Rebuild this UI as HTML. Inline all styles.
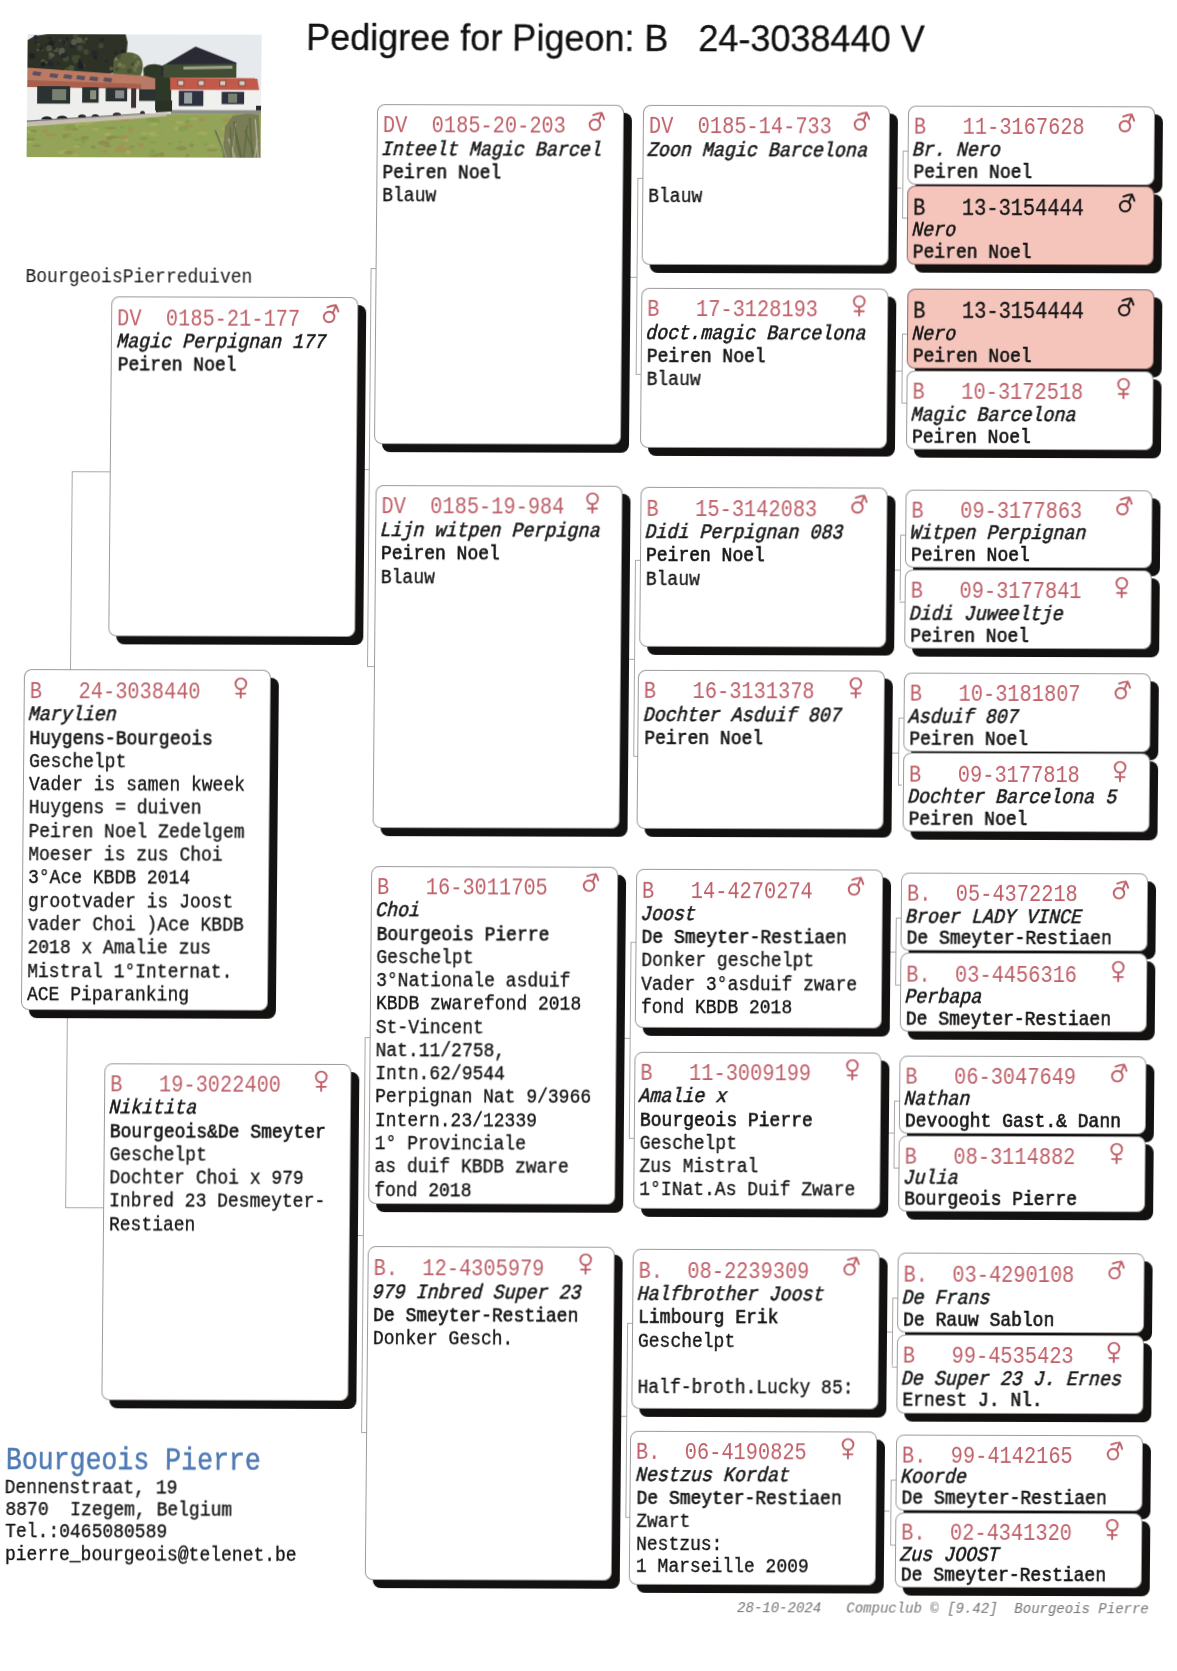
<!DOCTYPE html>
<html><head><meta charset="utf-8"><title>Pedigree</title>
<style>
html,body{margin:0;padding:0;background:#ffffff;width:1177px;height:1671px;overflow:hidden}
#pg{position:absolute;left:0;top:0;width:1177px;height:1671px;transform-origin:0 0;transform:matrix(1,0.0029,-0.009,1,0,0);filter:blur(0.5px)}
.bx{position:absolute;box-sizing:border-box;width:247px;border:1px solid #9b9b9b;border-radius:8px;background:#fff;box-shadow:8px 8px 0 #141111}
.pk{background:#f5c5bc;border-color:#8a6a6a}
.ln{position:absolute;left:0;white-space:pre;font-family:"Liberation Mono",monospace;transform-origin:0 0;color:#151515}
.rg{font-size:23.5px;line-height:24px;transform:scaleX(0.865);color:#bf5f68}
.pk .rg{color:#151515}
.nm{font-size:20.5px;line-height:24px;transform:scaleX(0.895) skewX(-4deg);font-style:italic;-webkit-text-stroke:0.55px #151515}
.br{font-size:20.5px;line-height:24px;transform:scaleX(0.878);-webkit-text-stroke:0.65px #151515}
.tx{font-size:20.5px;line-height:24px;transform:scaleX(0.878);-webkit-text-stroke:0.35px #151515}
.rg{-webkit-text-stroke:0px #bf5f68}
.pk .rg{-webkit-text-stroke:0.3px #151515}
.sx{position:absolute;overflow:visible}
.cn{position:absolute;background:#a8a8a8}
</style></head><body><div id="pg">

<div class="cn" style="left:890.3px;top:1508.0px;width:13.2px;height:1px"></div>
<div class="cn" style="left:903.5px;top:1541.9px;width:5.4px;height:1px"></div>
<div class="cn" style="left:903.5px;top:1476.9px;width:5.0px;height:1px"></div>
<div class="cn" style="left:903.5px;top:1476.9px;width:1px;height:65.0px"></div>
<div class="cn" style="left:890.7px;top:1329.0px;width:13.0px;height:1px"></div>
<div class="cn" style="left:903.7px;top:1363.5px;width:4.9px;height:1px"></div>
<div class="cn" style="left:903.7px;top:1294.9px;width:5.0px;height:1px"></div>
<div class="cn" style="left:903.7px;top:1294.9px;width:1px;height:68.6px"></div>
<div class="cn" style="left:891.2px;top:1130.3px;width:13.0px;height:1px"></div>
<div class="cn" style="left:904.2px;top:1164.8px;width:4.8px;height:1px"></div>
<div class="cn" style="left:904.2px;top:1097.9px;width:5.0px;height:1px"></div>
<div class="cn" style="left:904.2px;top:1097.9px;width:1px;height:66.9px"></div>
<div class="cn" style="left:891.2px;top:948.7px;width:13.0px;height:1px"></div>
<div class="cn" style="left:904.2px;top:981.7px;width:4.9px;height:1px"></div>
<div class="cn" style="left:904.2px;top:914.9px;width:5.0px;height:1px"></div>
<div class="cn" style="left:904.2px;top:914.9px;width:1px;height:66.8px"></div>
<div class="cn" style="left:891.3px;top:749.6px;width:13.6px;height:1px"></div>
<div class="cn" style="left:904.9px;top:782.3px;width:4.6px;height:1px"></div>
<div class="cn" style="left:904.9px;top:714.9px;width:5.0px;height:1px"></div>
<div class="cn" style="left:904.9px;top:714.9px;width:1px;height:67.4px"></div>
<div class="cn" style="left:891.7px;top:567.3px;width:13.0px;height:1px"></div>
<div class="cn" style="left:904.7px;top:598.5px;width:5.1px;height:1px"></div>
<div class="cn" style="left:904.7px;top:531.6px;width:5.0px;height:1px"></div>
<div class="cn" style="left:904.7px;top:531.6px;width:1px;height:66.9px"></div>
<div class="cn" style="left:891.0px;top:367.8px;width:13.5px;height:1px"></div>
<div class="cn" style="left:904.5px;top:399.7px;width:5.1px;height:1px"></div>
<div class="cn" style="left:904.5px;top:331.3px;width:5.0px;height:1px"></div>
<div class="cn" style="left:904.5px;top:331.3px;width:1px;height:68.4px"></div>
<div class="cn" style="left:890.6px;top:184.6px;width:12.9px;height:1px"></div>
<div class="cn" style="left:903.5px;top:215.3px;width:5.4px;height:1px"></div>
<div class="cn" style="left:903.5px;top:147.8px;width:5.0px;height:1px"></div>
<div class="cn" style="left:903.5px;top:147.8px;width:1px;height:67.5px"></div>
<div class="cn" style="left:626.0px;top:1413.9px;width:12.7px;height:1px"></div>
<div class="cn" style="left:638.7px;top:1515.3px;width:4.5px;height:1px"></div>
<div class="cn" style="left:638.7px;top:1320.6px;width:5.0px;height:1px"></div>
<div class="cn" style="left:638.7px;top:1320.6px;width:1px;height:194.7px"></div>
<div class="cn" style="left:626.2px;top:1036.0px;width:13.0px;height:1px"></div>
<div class="cn" style="left:639.2px;top:1136.1px;width:4.9px;height:1px"></div>
<div class="cn" style="left:639.2px;top:940.4px;width:5.0px;height:1px"></div>
<div class="cn" style="left:639.2px;top:940.4px;width:1px;height:195.7px"></div>
<div class="cn" style="left:626.8px;top:657.2px;width:12.9px;height:1px"></div>
<div class="cn" style="left:639.7px;top:754.0px;width:4.6px;height:1px"></div>
<div class="cn" style="left:639.7px;top:558.4px;width:5.0px;height:1px"></div>
<div class="cn" style="left:639.7px;top:558.4px;width:1px;height:195.6px"></div>
<div class="cn" style="left:625.2px;top:275.1px;width:13.4px;height:1px"></div>
<div class="cn" style="left:638.6px;top:371.6px;width:5.3px;height:1px"></div>
<div class="cn" style="left:638.6px;top:175.7px;width:5.0px;height:1px"></div>
<div class="cn" style="left:638.6px;top:175.7px;width:1px;height:195.9px"></div>
<div class="cn" style="left:360.9px;top:1233.6px;width:13.3px;height:1px"></div>
<div class="cn" style="left:374.2px;top:1430.8px;width:4.8px;height:1px"></div>
<div class="cn" style="left:374.2px;top:1036.4px;width:5.0px;height:1px"></div>
<div class="cn" style="left:374.2px;top:1036.4px;width:1px;height:394.4px"></div>
<div class="cn" style="left:361.3px;top:467.7px;width:12.0px;height:1px"></div>
<div class="cn" style="left:373.2px;top:665.4px;width:6.5px;height:1px"></div>
<div class="cn" style="left:373.2px;top:267.2px;width:5.0px;height:1px"></div>
<div class="cn" style="left:373.2px;top:267.2px;width:1px;height:398.2px"></div>
<div class="cn" style="left:76.2px;top:1206.7px;width:37.6px;height:1px"></div>
<div class="cn" style="left:76.2px;top:1009.7px;width:1px;height:197.0px"></div>
<div class="cn" style="left:76.2px;top:470.7px;width:38.0px;height:1px"></div>
<div class="cn" style="left:76.2px;top:470.7px;width:1px;height:198.6px"></div>
<div class="bx" style="left:29.5px;top:669.3px;height:340.4px">
<div class="ln rg" style="top:9.6px;left:5.1px">B   24-3038440</div>
<svg class="sx" style="left:204.5px;top:4.5px" width="24" height="26" viewBox="-12 -8 24 26"><g fill="none" stroke="#bf5f68" stroke-width="1.9" stroke-linecap="round"><circle cx="0" cy="0" r="5.4"/><path d="M0 5.4 L0 14 M-4.6 9.8 L4.6 9.8"/></g></svg>
<div class="ln nm" style="top:33.0px;left:5.3px">Marylien</div>
<div class="ln br" style="top:56.3px;left:5.3px">Huygens-Bourgeois</div>
<div class="ln tx" style="top:79.6px;left:5.3px">Geschelpt</div>
<div class="ln tx" style="top:102.9px;left:5.3px">Vader is samen kweek</div>
<div class="ln tx" style="top:126.2px;left:5.3px">Huygens = duiven</div>
<div class="ln tx" style="top:149.5px;left:5.3px">Peiren Noel Zedelgem</div>
<div class="ln tx" style="top:172.9px;left:5.3px">Moeser is zus Choi</div>
<div class="ln tx" style="top:196.2px;left:5.3px">3°Ace KBDB 2014</div>
<div class="ln tx" style="top:219.5px;left:5.3px">grootvader is Joost</div>
<div class="ln tx" style="top:242.8px;left:5.3px">vader Choi )Ace KBDB</div>
<div class="ln tx" style="top:266.1px;left:5.3px">2018 x Amalie zus</div>
<div class="ln tx" style="top:289.4px;left:5.3px">Mistral 1°Internat.</div>
<div class="ln tx" style="top:312.7px;left:5.3px">ACE Piparanking</div>
</div>
<div class="bx" style="left:114.3px;top:296.0px;height:339.5px">
<div class="ln rg" style="top:9.5px;left:5.1px">DV  0185-21-177</div>
<svg class="sx" style="left:204.5px;top:2.9px" width="24" height="24" viewBox="-12 -16 24 24"><g fill="none" stroke="#bf5f68" stroke-width="1.9" stroke-linecap="round" stroke-linejoin="round"><circle cx="0" cy="0" r="5.3"/><path d="M3.6 -3.8 L6.8 -11.5 M-1.8 -9.6 Q3 -11.6 6.8 -11.7 Q8.3 -8.5 9.2 -5.4"/></g></svg>
<div class="ln nm" style="top:32.9px;left:5.3px">Magic Perpignan 177</div>
<div class="ln br" style="top:56.2px;left:5.3px">Peiren Noel</div>
</div>
<div class="bx" style="left:113.9px;top:1062.7px;height:337.8px">
<div class="ln rg" style="top:9.5px;left:5.1px">B   19-3022400</div>
<svg class="sx" style="left:204.5px;top:4.4px" width="24" height="26" viewBox="-12 -8 24 26"><g fill="none" stroke="#bf5f68" stroke-width="1.9" stroke-linecap="round"><circle cx="0" cy="0" r="5.4"/><path d="M0 5.4 L0 14 M-4.6 9.8 L4.6 9.8"/></g></svg>
<div class="ln nm" style="top:32.8px;left:5.3px">Nikitita</div>
<div class="ln br" style="top:56.0px;left:5.3px">Bourgeois&amp;De Smeyter</div>
<div class="ln tx" style="top:79.2px;left:5.3px">Geschelpt</div>
<div class="ln tx" style="top:102.5px;left:5.3px">Dochter Choi x 979</div>
<div class="ln tx" style="top:125.7px;left:5.3px">Inbred 23 Desmeyter-</div>
<div class="ln tx" style="top:148.9px;left:5.3px">Restiaen</div>
</div>
<div class="bx" style="left:378.2px;top:102.7px;height:340.8px">
<div class="ln rg" style="top:9.6px;left:5.1px">DV  0185-20-203</div>
<svg class="sx" style="left:204.5px;top:2.9px" width="24" height="24" viewBox="-12 -16 24 24"><g fill="none" stroke="#bf5f68" stroke-width="1.9" stroke-linecap="round" stroke-linejoin="round"><circle cx="0" cy="0" r="5.3"/><path d="M3.6 -3.8 L6.8 -11.5 M-1.8 -9.6 Q3 -11.6 6.8 -11.7 Q8.3 -8.5 9.2 -5.4"/></g></svg>
<div class="ln nm" style="top:33.0px;left:5.3px">Inteelt Magic Barcel</div>
<div class="ln br" style="top:56.3px;left:5.3px">Peiren Noel</div>
<div class="ln tx" style="top:79.7px;left:5.3px">Blauw</div>
</div>
<div class="bx" style="left:379.8px;top:483.7px;height:343.0px">
<div class="ln rg" style="top:9.7px;left:5.1px">DV  0185-19-984</div>
<svg class="sx" style="left:204.5px;top:4.6px" width="24" height="26" viewBox="-12 -8 24 26"><g fill="none" stroke="#bf5f68" stroke-width="1.9" stroke-linecap="round"><circle cx="0" cy="0" r="5.4"/><path d="M0 5.4 L0 14 M-4.6 9.8 L4.6 9.8"/></g></svg>
<div class="ln nm" style="top:33.2px;left:5.3px">Lijn witpen Perpigna</div>
<div class="ln br" style="top:56.6px;left:5.3px">Peiren Noel</div>
<div class="ln tx" style="top:80.0px;left:5.3px">Blauw</div>
</div>
<div class="bx" style="left:379.2px;top:864.6px;height:338.8px">
<div class="ln rg" style="top:9.5px;left:5.1px">B   16-3011705</div>
<svg class="sx" style="left:204.5px;top:2.9px" width="24" height="24" viewBox="-12 -16 24 24"><g fill="none" stroke="#bf5f68" stroke-width="1.9" stroke-linecap="round" stroke-linejoin="round"><circle cx="0" cy="0" r="5.3"/><path d="M3.6 -3.8 L6.8 -11.5 M-1.8 -9.6 Q3 -11.6 6.8 -11.7 Q8.3 -8.5 9.2 -5.4"/></g></svg>
<div class="ln nm" style="top:32.9px;left:5.3px">Choi</div>
<div class="ln br" style="top:56.1px;left:5.3px">Bourgeois Pierre</div>
<div class="ln tx" style="top:79.4px;left:5.3px">Geschelpt</div>
<div class="ln tx" style="top:102.6px;left:5.3px">3°Nationale asduif</div>
<div class="ln tx" style="top:125.9px;left:5.3px">KBDB zwarefond 2018</div>
<div class="ln tx" style="top:149.1px;left:5.3px">St-Vincent</div>
<div class="ln tx" style="top:172.4px;left:5.3px">Nat.11/2758,</div>
<div class="ln tx" style="top:195.7px;left:5.3px">Intn.62/9544</div>
<div class="ln tx" style="top:218.9px;left:5.3px">Perpignan Nat 9/3966</div>
<div class="ln tx" style="top:242.2px;left:5.3px">Intern.23/12339</div>
<div class="ln tx" style="top:265.4px;left:5.3px">1° Provinciale</div>
<div class="ln tx" style="top:288.7px;left:5.3px">as duif KBDB zware</div>
<div class="ln tx" style="top:312.0px;left:5.3px">fond 2018</div>
</div>
<div class="bx" style="left:379.0px;top:1244.8px;height:334.1px">
<div class="ln rg" style="top:10.6px;left:5.1px">B.  12-4305979</div>
<svg class="sx" style="left:204.5px;top:4.3px" width="24" height="26" viewBox="-12 -8 24 26"><g fill="none" stroke="#bf5f68" stroke-width="1.9" stroke-linecap="round"><circle cx="0" cy="0" r="5.4"/><path d="M0 5.4 L0 14 M-4.6 9.8 L4.6 9.8"/></g></svg>
<div class="ln nm" style="top:33.8px;left:5.3px">979 Inbred Super 23</div>
<div class="ln br" style="top:56.9px;left:5.3px">De Smeyter-Restiaen</div>
<div class="ln tx" style="top:80.0px;left:5.3px">Donker Gesch.</div>
</div>
<div class="bx" style="left:643.6px;top:102.5px;height:160.2px">
<div class="ln rg" style="top:9.6px;left:5.1px">DV  0185-14-733</div>
<svg class="sx" style="left:204.5px;top:2.9px" width="24" height="24" viewBox="-12 -16 24 24"><g fill="none" stroke="#bf5f68" stroke-width="1.9" stroke-linecap="round" stroke-linejoin="round"><circle cx="0" cy="0" r="5.3"/><path d="M3.6 -3.8 L6.8 -11.5 M-1.8 -9.6 Q3 -11.6 6.8 -11.7 Q8.3 -8.5 9.2 -5.4"/></g></svg>
<div class="ln nm" style="top:33.0px;left:5.3px">Zoon Magic Barcelona</div>
<div class="ln tx" style="top:79.6px;left:5.3px">Blauw</div>
</div>
<div class="bx" style="left:644.0px;top:285.5px;height:160.6px">
<div class="ln rg" style="top:9.6px;left:5.1px">B   17-3128193</div>
<svg class="sx" style="left:204.5px;top:4.6px" width="24" height="26" viewBox="-12 -8 24 26"><g fill="none" stroke="#bf5f68" stroke-width="1.9" stroke-linecap="round"><circle cx="0" cy="0" r="5.4"/><path d="M0 5.4 L0 14 M-4.6 9.8 L4.6 9.8"/></g></svg>
<div class="ln nm" style="top:33.0px;left:5.3px">doct.magic Barcelona</div>
<div class="ln br" style="top:56.4px;left:5.3px">Peiren Noel</div>
<div class="ln tx" style="top:79.7px;left:5.3px">Blauw</div>
</div>
<div class="bx" style="left:644.7px;top:485.2px;height:160.2px">
<div class="ln rg" style="top:9.6px;left:5.1px">B   15-3142083</div>
<svg class="sx" style="left:204.5px;top:2.9px" width="24" height="24" viewBox="-12 -16 24 24"><g fill="none" stroke="#bf5f68" stroke-width="1.9" stroke-linecap="round" stroke-linejoin="round"><circle cx="0" cy="0" r="5.3"/><path d="M3.6 -3.8 L6.8 -11.5 M-1.8 -9.6 Q3 -11.6 6.8 -11.7 Q8.3 -8.5 9.2 -5.4"/></g></svg>
<div class="ln nm" style="top:33.0px;left:5.3px">Didi Perpignan 083</div>
<div class="ln br" style="top:56.3px;left:5.3px">Peiren Noel</div>
<div class="ln tx" style="top:79.6px;left:5.3px">Blauw</div>
</div>
<div class="bx" style="left:644.3px;top:667.9px;height:159.4px">
<div class="ln rg" style="top:9.5px;left:5.1px">B   16-3131378</div>
<svg class="sx" style="left:204.5px;top:4.4px" width="24" height="26" viewBox="-12 -8 24 26"><g fill="none" stroke="#bf5f68" stroke-width="1.9" stroke-linecap="round"><circle cx="0" cy="0" r="5.4"/><path d="M0 5.4 L0 14 M-4.6 9.8 L4.6 9.8"/></g></svg>
<div class="ln nm" style="top:32.8px;left:5.3px">Dochter Asduif 807</div>
<div class="ln br" style="top:56.1px;left:5.3px">Peiren Noel</div>
</div>
<div class="bx" style="left:644.2px;top:867.2px;height:159.0px">
<div class="ln rg" style="top:9.5px;left:5.1px">B   14-4270274</div>
<svg class="sx" style="left:204.5px;top:2.8px" width="24" height="24" viewBox="-12 -16 24 24"><g fill="none" stroke="#bf5f68" stroke-width="1.9" stroke-linecap="round" stroke-linejoin="round"><circle cx="0" cy="0" r="5.3"/><path d="M3.6 -3.8 L6.8 -11.5 M-1.8 -9.6 Q3 -11.6 6.8 -11.7 Q8.3 -8.5 9.2 -5.4"/></g></svg>
<div class="ln nm" style="top:32.8px;left:5.3px">Joost</div>
<div class="ln br" style="top:56.0px;left:5.3px">De Smeyter-Restiaen</div>
<div class="ln tx" style="top:79.2px;left:5.3px">Donker geschelpt</div>
<div class="ln tx" style="top:102.5px;left:5.3px">Vader 3°asduif zware</div>
<div class="ln tx" style="top:125.7px;left:5.3px">fond KBDB 2018</div>
</div>
<div class="bx" style="left:644.2px;top:1050.0px;height:156.6px">
<div class="ln rg" style="top:9.2px;left:5.1px">B   11-3009199</div>
<svg class="sx" style="left:204.5px;top:4.2px" width="24" height="26" viewBox="-12 -8 24 26"><g fill="none" stroke="#bf5f68" stroke-width="1.9" stroke-linecap="round"><circle cx="0" cy="0" r="5.4"/><path d="M0 5.4 L0 14 M-4.6 9.8 L4.6 9.8"/></g></svg>
<div class="ln nm" style="top:32.4px;left:5.3px">Amalie x</div>
<div class="ln br" style="top:55.5px;left:5.3px">Bourgeois Pierre</div>
<div class="ln tx" style="top:78.5px;left:5.3px">Geschelpt</div>
<div class="ln tx" style="top:101.6px;left:5.3px">Zus Mistral</div>
<div class="ln tx" style="top:124.6px;left:5.3px">1°INat.As Duif Zware</div>
</div>
<div class="bx" style="left:643.7px;top:1247.4px;height:159.2px">
<div class="ln rg" style="top:9.5px;left:5.1px">B.  08-2239309</div>
<svg class="sx" style="left:204.5px;top:2.8px" width="24" height="24" viewBox="-12 -16 24 24"><g fill="none" stroke="#bf5f68" stroke-width="1.9" stroke-linecap="round" stroke-linejoin="round"><circle cx="0" cy="0" r="5.3"/><path d="M3.6 -3.8 L6.8 -11.5 M-1.8 -9.6 Q3 -11.6 6.8 -11.7 Q8.3 -8.5 9.2 -5.4"/></g></svg>
<div class="ln nm" style="top:32.8px;left:5.3px">Halfbrother Joost</div>
<div class="ln br" style="top:56.1px;left:5.3px">Limbourg Erik</div>
<div class="ln tx" style="top:79.3px;left:5.3px">Geschelpt</div>
<div class="ln tx" style="top:125.8px;left:5.3px">Half-broth.Lucky 85:</div>
</div>
<div class="bx" style="left:643.3px;top:1429.2px;height:153.5px">
<div class="ln rg" style="top:9.0px;left:5.1px">B.  06-4190825</div>
<svg class="sx" style="left:204.5px;top:3.9px" width="24" height="26" viewBox="-12 -8 24 26"><g fill="none" stroke="#bf5f68" stroke-width="1.9" stroke-linecap="round"><circle cx="0" cy="0" r="5.4"/><path d="M0 5.4 L0 14 M-4.6 9.8 L4.6 9.8"/></g></svg>
<div class="ln nm" style="top:31.9px;left:5.3px">Nestzus Kordat</div>
<div class="ln br" style="top:54.7px;left:5.3px">De Smeyter-Restiaen</div>
<div class="ln tx" style="top:77.5px;left:5.3px">Zwart</div>
<div class="ln tx" style="top:100.4px;left:5.3px">Nestzus:</div>
<div class="ln tx" style="top:123.2px;left:5.3px">1 Marseille 2009</div>
</div>
<div class="bx" style="left:908.5px;top:102.7px;height:79.2px">
<div class="ln rg" style="top:9.7px;left:5.1px">B   11-3167628</div>
<svg class="sx" style="left:204.5px;top:3.1px" width="24" height="24" viewBox="-12 -16 24 24"><g fill="none" stroke="#bf5f68" stroke-width="1.9" stroke-linecap="round" stroke-linejoin="round"><circle cx="0" cy="0" r="5.3"/><path d="M3.6 -3.8 L6.8 -11.5 M-1.8 -9.6 Q3 -11.6 6.8 -11.7 Q8.3 -8.5 9.2 -5.4"/></g></svg>
<div class="ln nm" style="top:32.3px;left:5.3px">Br. Nero</div>
<div class="ln br" style="top:53.9px;left:5.3px">Peiren Noel</div>
</div>
<div class="bx pk" style="left:909.0px;top:183.4px;height:78.6px">
<div class="ln rg" style="top:9.5px;left:5.1px">B   13-3154444</div>
<svg class="sx" style="left:204.5px;top:2.9px" width="24" height="24" viewBox="-12 -16 24 24"><g fill="none" stroke="#151515" stroke-width="1.9" stroke-linecap="round" stroke-linejoin="round"><circle cx="0" cy="0" r="5.3"/><path d="M3.6 -3.8 L6.8 -11.5 M-1.8 -9.6 Q3 -11.6 6.8 -11.7 Q8.3 -8.5 9.2 -5.4"/></g></svg>
<div class="ln nm" style="top:31.9px;left:5.3px">Nero</div>
<div class="ln br" style="top:53.3px;left:5.3px">Peiren Noel</div>
</div>
<div class="bx pk" style="left:909.5px;top:286.2px;height:80.1px">
<div class="ln rg" style="top:10.1px;left:5.1px">B   13-3154444</div>
<svg class="sx" style="left:204.5px;top:3.4px" width="24" height="24" viewBox="-12 -16 24 24"><g fill="none" stroke="#151515" stroke-width="1.9" stroke-linecap="round" stroke-linejoin="round"><circle cx="0" cy="0" r="5.3"/><path d="M3.6 -3.8 L6.8 -11.5 M-1.8 -9.6 Q3 -11.6 6.8 -11.7 Q8.3 -8.5 9.2 -5.4"/></g></svg>
<div class="ln nm" style="top:32.8px;left:5.3px">Nero</div>
<div class="ln br" style="top:54.7px;left:5.3px">Peiren Noel</div>
</div>
<div class="bx" style="left:909.6px;top:367.8px;height:79.2px">
<div class="ln rg" style="top:9.7px;left:5.1px">B   10-3172518</div>
<svg class="sx" style="left:204.5px;top:4.7px" width="24" height="26" viewBox="-12 -8 24 26"><g fill="none" stroke="#bf5f68" stroke-width="1.9" stroke-linecap="round"><circle cx="0" cy="0" r="5.4"/><path d="M0 5.4 L0 14 M-4.6 9.8 L4.6 9.8"/></g></svg>
<div class="ln nm" style="top:32.3px;left:5.3px">Magic Barcelona</div>
<div class="ln br" style="top:53.9px;left:5.3px">Peiren Noel</div>
</div>
<div class="bx" style="left:909.7px;top:486.5px;height:78.6px">
<div class="ln rg" style="top:9.5px;left:5.1px">B   09-3177863</div>
<svg class="sx" style="left:204.5px;top:2.9px" width="24" height="24" viewBox="-12 -16 24 24"><g fill="none" stroke="#bf5f68" stroke-width="1.9" stroke-linecap="round" stroke-linejoin="round"><circle cx="0" cy="0" r="5.3"/><path d="M3.6 -3.8 L6.8 -11.5 M-1.8 -9.6 Q3 -11.6 6.8 -11.7 Q8.3 -8.5 9.2 -5.4"/></g></svg>
<div class="ln nm" style="top:31.9px;left:5.3px">Witpen Perpignan</div>
<div class="ln br" style="top:53.3px;left:5.3px">Peiren Noel</div>
</div>
<div class="bx" style="left:909.8px;top:566.6px;height:79.5px">
<div class="ln rg" style="top:9.8px;left:5.1px">B   09-3177841</div>
<svg class="sx" style="left:204.5px;top:4.8px" width="24" height="26" viewBox="-12 -8 24 26"><g fill="none" stroke="#bf5f68" stroke-width="1.9" stroke-linecap="round"><circle cx="0" cy="0" r="5.4"/><path d="M0 5.4 L0 14 M-4.6 9.8 L4.6 9.8"/></g></svg>
<div class="ln nm" style="top:32.4px;left:5.3px">Didi Juweeltje</div>
<div class="ln br" style="top:54.1px;left:5.3px">Peiren Noel</div>
</div>
<div class="bx" style="left:909.9px;top:669.8px;height:79.1px">
<div class="ln rg" style="top:9.7px;left:5.1px">B   10-3181807</div>
<svg class="sx" style="left:204.5px;top:3.1px" width="24" height="24" viewBox="-12 -16 24 24"><g fill="none" stroke="#bf5f68" stroke-width="1.9" stroke-linecap="round" stroke-linejoin="round"><circle cx="0" cy="0" r="5.3"/><path d="M3.6 -3.8 L6.8 -11.5 M-1.8 -9.6 Q3 -11.6 6.8 -11.7 Q8.3 -8.5 9.2 -5.4"/></g></svg>
<div class="ln nm" style="top:32.2px;left:5.3px">Asduif 807</div>
<div class="ln br" style="top:53.8px;left:5.3px">Peiren Noel</div>
</div>
<div class="bx" style="left:909.6px;top:750.4px;height:78.6px">
<div class="ln rg" style="top:9.5px;left:5.1px">B   09-3177818</div>
<svg class="sx" style="left:204.5px;top:4.5px" width="24" height="26" viewBox="-12 -8 24 26"><g fill="none" stroke="#bf5f68" stroke-width="1.9" stroke-linecap="round"><circle cx="0" cy="0" r="5.4"/><path d="M0 5.4 L0 14 M-4.6 9.8 L4.6 9.8"/></g></svg>
<div class="ln nm" style="top:31.9px;left:5.3px">Dochter Barcelona 5</div>
<div class="ln br" style="top:53.3px;left:5.3px">Peiren Noel</div>
</div>
<div class="bx" style="left:909.2px;top:869.8px;height:78.5px">
<div class="ln rg" style="top:9.5px;left:5.1px">B.  05-4372218</div>
<svg class="sx" style="left:204.5px;top:2.8px" width="24" height="24" viewBox="-12 -16 24 24"><g fill="none" stroke="#bf5f68" stroke-width="1.9" stroke-linecap="round" stroke-linejoin="round"><circle cx="0" cy="0" r="5.3"/><path d="M3.6 -3.8 L6.8 -11.5 M-1.8 -9.6 Q3 -11.6 6.8 -11.7 Q8.3 -8.5 9.2 -5.4"/></g></svg>
<div class="ln nm" style="top:31.8px;left:5.3px">Broer LADY VINCE</div>
<div class="ln br" style="top:53.2px;left:5.3px">De Smeyter-Restiaen</div>
</div>
<div class="bx" style="left:909.1px;top:949.8px;height:79.5px">
<div class="ln rg" style="top:9.8px;left:5.1px">B.  03-4456316</div>
<svg class="sx" style="left:204.5px;top:4.8px" width="24" height="26" viewBox="-12 -8 24 26"><g fill="none" stroke="#bf5f68" stroke-width="1.9" stroke-linecap="round"><circle cx="0" cy="0" r="5.4"/><path d="M0 5.4 L0 14 M-4.6 9.8 L4.6 9.8"/></g></svg>
<div class="ln nm" style="top:32.4px;left:5.3px">Perbapa</div>
<div class="ln br" style="top:54.1px;left:5.3px">De Smeyter-Restiaen</div>
</div>
<div class="bx" style="left:909.2px;top:1052.8px;height:78.4px">
<div class="ln rg" style="top:9.5px;left:5.1px">B   06-3047649</div>
<svg class="sx" style="left:204.5px;top:2.8px" width="24" height="24" viewBox="-12 -16 24 24"><g fill="none" stroke="#bf5f68" stroke-width="1.9" stroke-linecap="round" stroke-linejoin="round"><circle cx="0" cy="0" r="5.3"/><path d="M3.6 -3.8 L6.8 -11.5 M-1.8 -9.6 Q3 -11.6 6.8 -11.7 Q8.3 -8.5 9.2 -5.4"/></g></svg>
<div class="ln nm" style="top:31.7px;left:5.3px">Nathan</div>
<div class="ln br" style="top:53.1px;left:5.3px">Devooght Gast.&amp; Dann</div>
</div>
<div class="bx" style="left:909.0px;top:1132.9px;height:76.6px">
<div class="ln rg" style="top:8.8px;left:5.1px">B   08-3114882</div>
<svg class="sx" style="left:204.5px;top:3.8px" width="24" height="26" viewBox="-12 -8 24 26"><g fill="none" stroke="#bf5f68" stroke-width="1.9" stroke-linecap="round"><circle cx="0" cy="0" r="5.4"/><path d="M0 5.4 L0 14 M-4.6 9.8 L4.6 9.8"/></g></svg>
<div class="ln nm" style="top:30.6px;left:5.3px">Julia</div>
<div class="ln br" style="top:51.5px;left:5.3px">Bourgeois Pierre</div>
</div>
<div class="bx" style="left:908.7px;top:1249.8px;height:80.3px">
<div class="ln rg" style="top:10.1px;left:5.1px">B.  03-4290108</div>
<svg class="sx" style="left:204.5px;top:3.5px" width="24" height="24" viewBox="-12 -16 24 24"><g fill="none" stroke="#bf5f68" stroke-width="1.9" stroke-linecap="round" stroke-linejoin="round"><circle cx="0" cy="0" r="5.3"/><path d="M3.6 -3.8 L6.8 -11.5 M-1.8 -9.6 Q3 -11.6 6.8 -11.7 Q8.3 -8.5 9.2 -5.4"/></g></svg>
<div class="ln nm" style="top:33.0px;left:5.3px">De Frans</div>
<div class="ln br" style="top:54.9px;left:5.3px">De Rauw Sablon</div>
</div>
<div class="bx" style="left:908.7px;top:1331.6px;height:79.0px">
<div class="ln rg" style="top:9.7px;left:5.1px">B   99-4535423</div>
<svg class="sx" style="left:204.5px;top:4.6px" width="24" height="26" viewBox="-12 -8 24 26"><g fill="none" stroke="#bf5f68" stroke-width="1.9" stroke-linecap="round"><circle cx="0" cy="0" r="5.4"/><path d="M0 5.4 L0 14 M-4.6 9.8 L4.6 9.8"/></g></svg>
<div class="ln nm" style="top:32.1px;left:5.3px">De Super 23 J. Ernes</div>
<div class="ln br" style="top:53.7px;left:5.3px">Ernest J. Nl.</div>
</div>
<div class="bx" style="left:908.5px;top:1431.8px;height:76.7px">
<div class="ln rg" style="top:8.8px;left:5.1px">B.  99-4142165</div>
<svg class="sx" style="left:204.5px;top:2.2px" width="24" height="24" viewBox="-12 -16 24 24"><g fill="none" stroke="#bf5f68" stroke-width="1.9" stroke-linecap="round" stroke-linejoin="round"><circle cx="0" cy="0" r="5.3"/><path d="M3.6 -3.8 L6.8 -11.5 M-1.8 -9.6 Q3 -11.6 6.8 -11.7 Q8.3 -8.5 9.2 -5.4"/></g></svg>
<div class="ln nm" style="top:30.7px;left:5.3px">Koorde</div>
<div class="ln br" style="top:51.6px;left:5.3px">De Smeyter-Restiaen</div>
</div>
<div class="bx" style="left:908.9px;top:1510.0px;height:75.3px">
<div class="ln rg" style="top:8.3px;left:5.1px">B.  02-4341320</div>
<svg class="sx" style="left:204.5px;top:3.3px" width="24" height="26" viewBox="-12 -8 24 26"><g fill="none" stroke="#bf5f68" stroke-width="1.9" stroke-linecap="round"><circle cx="0" cy="0" r="5.4"/><path d="M0 5.4 L0 14 M-4.6 9.8 L4.6 9.8"/></g></svg>
<div class="ln nm" style="top:29.8px;left:5.3px">Zus JOOST</div>
<div class="ln br" style="top:50.3px;left:5.3px">De Smeyter-Restiaen</div>
</div>
<div style="position:absolute;left:306.5px;top:16.6px;font-family:'Liberation Sans',sans-serif;font-size:36px;line-height:40px;white-space:pre;color:#111;-webkit-text-stroke:0.3px #111">Pedigree for Pigeon: B   24-3038440 V</div>
<svg style="position:absolute;left:28.3px;top:33.8px" width="234" height="123" viewBox="0 0 234 123"><defs><filter id="bl" x="0" y="0" width="1" height="1"><feGaussianBlur stdDeviation="0.7"/></filter><clipPath id="pc"><rect width="234" height="123"/></clipPath></defs>
<g filter="url(#bl)" clip-path="url(#pc)">
<rect width="234" height="123" fill="#e7eaec"/>
<path d="M0 6 L7 2 L20 0 L98 0 L100 8 L99 20 L96 30 L90 38 L75 40 L0 36 Z" fill="#2d3026"/>
<circle cx="32.4" cy="6.3" r="1.3" fill="#3f4a33"/>
<circle cx="52.4" cy="13.8" r="3.0" fill="#3f4a33"/>
<circle cx="22.2" cy="4.0" r="1.3" fill="#1f2224"/>
<circle cx="10.5" cy="15.9" r="1.4" fill="#555a48"/>
<circle cx="23.0" cy="23.0" r="2.4" fill="#3f4a33"/>
<circle cx="39.3" cy="35.2" r="2.3" fill="#3f4a33"/>
<circle cx="14.5" cy="15.7" r="1.4" fill="#555a48"/>
<circle cx="31.0" cy="29.6" r="1.4" fill="#262630"/>
<circle cx="55.7" cy="7.6" r="2.3" fill="#3f4a33"/>
<circle cx="7.9" cy="3.1" r="2.2" fill="#262630"/>
<circle cx="52.0" cy="28.2" r="2.4" fill="#1f2224"/>
<circle cx="44.6" cy="11.5" r="2.6" fill="#262630"/>
<circle cx="24.9" cy="21.1" r="2.2" fill="#555a48"/>
<circle cx="34.3" cy="16.7" r="3.2" fill="#555a48"/>
<circle cx="13.1" cy="15.6" r="1.5" fill="#4a5238"/>
<circle cx="48.0" cy="2.4" r="2.7" fill="#3f4a33"/>
<circle cx="55.9" cy="31.6" r="1.9" fill="#4a5238"/>
<circle cx="34.9" cy="18.4" r="1.3" fill="#1f2224"/>
<circle cx="10.8" cy="10.4" r="1.3" fill="#3f4a33"/>
<circle cx="67.9" cy="23.6" r="1.8" fill="#1f2224"/>
<circle cx="38.3" cy="24.4" r="3.1" fill="#3f4a33"/>
<circle cx="35.4" cy="22.4" r="1.3" fill="#1f2224"/>
<circle cx="74.2" cy="5.5" r="2.0" fill="#262630"/>
<circle cx="88.2" cy="18.4" r="2.1" fill="#262630"/>
<circle cx="53.6" cy="31.9" r="2.9" fill="#1f2224"/>
<circle cx="28.2" cy="15.5" r="2.6" fill="#4a5238"/>
<circle cx="37.8" cy="9.1" r="1.6" fill="#3f4a33"/>
<circle cx="23.8" cy="9.2" r="2.9" fill="#1f2224"/>
<circle cx="19.1" cy="10.9" r="2.0" fill="#262630"/>
<circle cx="36.7" cy="20.8" r="2.6" fill="#262630"/>
<circle cx="50.5" cy="22.6" r="2.1" fill="#3f4a33"/>
<circle cx="83.9" cy="34.3" r="2.0" fill="#555a48"/>
<circle cx="39.5" cy="4.6" r="1.3" fill="#1f2224"/>
<circle cx="8.3" cy="8.3" r="1.4" fill="#262630"/>
<circle cx="58.5" cy="4.6" r="1.5" fill="#555a48"/>
<circle cx="11.5" cy="13.7" r="1.3" fill="#3f4a33"/>
<circle cx="21.5" cy="14.2" r="3.1" fill="#4a5238"/>
<circle cx="58.6" cy="17.6" r="2.9" fill="#3f4a33"/>
<circle cx="95.4" cy="17.3" r="1.8" fill="#1f2224"/>
<circle cx="15.5" cy="27.2" r="2.2" fill="#4a5238"/>
<circle cx="67.1" cy="19.1" r="3.1" fill="#262630"/>
<circle cx="51.7" cy="6.1" r="3.0" fill="#555a48"/>
<circle cx="73.3" cy="11.4" r="2.6" fill="#3f4a33"/>
<circle cx="26.5" cy="13.8" r="1.9" fill="#262630"/>
<circle cx="22.9" cy="20.0" r="1.9" fill="#555a48"/>
<circle cx="23.0" cy="29.4" r="2.8" fill="#262630"/>
<circle cx="78.9" cy="26.9" r="1.6" fill="#262630"/>
<circle cx="48.3" cy="26.6" r="2.8" fill="#3f4a33"/>
<circle cx="46.4" cy="7.8" r="3.1" fill="#555a48"/>
<circle cx="44.0" cy="33.8" r="3.1" fill="#4a5238"/>
<circle cx="36.3" cy="8.7" r="2.1" fill="#262630"/>
<circle cx="33.7" cy="17.9" r="2.9" fill="#555a48"/>
<circle cx="47.1" cy="23.9" r="2.9" fill="#3f4a33"/>
<circle cx="13.3" cy="14.6" r="2.2" fill="#262630"/>
<circle cx="18.8" cy="28.6" r="1.4" fill="#4a5238"/>
<circle cx="90.9" cy="26.3" r="2.0" fill="#1f2224"/>
<circle cx="91.0" cy="26.4" r="3.2" fill="#262630"/>
<circle cx="4.6" cy="21.7" r="2.8" fill="#1f2224"/>
<circle cx="15.7" cy="29.9" r="2.5" fill="#1f2224"/>
<circle cx="34.9" cy="20.2" r="1.2" fill="#262630"/>
<path d="M86 26 C90 18 104 15 112 22 C117 28 116 38 112 43 L86 43 Z" fill="#56603a"/>
<circle cx="108.0" cy="36.0" r="1.2" fill="#7a7a55"/>
<circle cx="111.3" cy="29.5" r="2.3" fill="#6a7045"/>
<circle cx="88.7" cy="24.7" r="1.8" fill="#7a7a55"/>
<circle cx="96.1" cy="32.0" r="2.3" fill="#6a7045"/>
<circle cx="110.8" cy="27.8" r="1.7" fill="#7a7a55"/>
<circle cx="108.4" cy="31.4" r="2.2" fill="#7a7a55"/>
<circle cx="91.3" cy="23.3" r="1.8" fill="#444c30"/>
<circle cx="107.4" cy="33.4" r="2.2" fill="#6a7045"/>
<circle cx="92.3" cy="30.4" r="2.1" fill="#7a7a55"/>
<circle cx="89.5" cy="35.0" r="1.8" fill="#444c30"/>
<circle cx="107.6" cy="22.3" r="1.8" fill="#6a7045"/>
<circle cx="92.8" cy="20.9" r="1.1" fill="#444c30"/>
<circle cx="102.0" cy="36.7" r="2.4" fill="#444c30"/>
<circle cx="96.1" cy="41.4" r="1.9" fill="#6a7045"/>
<circle cx="105.3" cy="30.0" r="1.8" fill="#444c30"/>
<path d="M116 34 C120 28 134 28 142 36 L146 76 L118 76 Z" fill="#2e3828"/>
<path d="M134 32 L168 12 L209 28 L209 42 L134 42 Z" fill="#2a2a36"/>
<path d="M136 30 L209 29 L209 43 L136 43 Z" fill="#3f4d32"/>
<path d="M156 32 L205 31 L205 34 L156 35 Z" fill="#9ea08e"/>
<path d="M0 33.5 L118 41.5 L128 44 L128 55 L0 53 Z" fill="#bd7a62"/>
<path d="M0 46 L128 50 L128 55 L0 53 Z" fill="#a8604e"/>
<path d="M6 37 l8 1 l-1 4 l-8 -1 Z" fill="#5b5060"/>
<path d="M23 39 l8 1 l-1 4 l-8 -1 Z" fill="#5b5060"/>
<path d="M37 40 l8 1 l-1 4 l-8 -1 Z" fill="#5b5060"/>
<path d="M50 41 l8 1 l-1 4 l-8 -1 Z" fill="#5b5060"/>
<path d="M63 42 l8 1 l-1 4 l-8 -1 Z" fill="#5b5060"/>
<path d="M77 43 l8 1 l-1 4 l-8 -1 Z" fill="#5b5060"/>
<path d="M0 53 L128 55 L128 79 L0 86 Z" fill="#eeeeec"/>
<rect x="10" y="52" width="33" height="17.5" fill="#2c3030"/><rect x="25" y="55" width="14" height="11" fill="#77806e"/>
<rect x="55" y="53" width="16.5" height="15.5" fill="#2c3030"/><rect x="63" y="56" width="6" height="9" fill="#8a8f80"/>
<rect x="78.5" y="53.5" width="21.5" height="13.5" fill="#2c3030"/><rect x="88" y="56" width="9" height="8" fill="#8a8a88"/>
<rect x="104" y="54" width="5" height="19.5" fill="#3b3036"/>
<rect x="112" y="54.5" width="16" height="12" fill="#2c3030"/>
<path d="M14.3 85.5 a5.6 3.2 0 0 1 11.2 0 Z" fill="#232326"/>
<path d="M29.6 84.8 a5.6 3.2 0 0 1 11.2 0 Z" fill="#232326"/>
<path d="M51.0 83.5 a4.1 3.2 0 0 1 8.2 0 Z" fill="#232326"/>
<path d="M64.3 82.8 a4.1 3.2 0 0 1 8.1 0 Z" fill="#232326"/>
<path d="M85.7 81.5 a4.3 3.2 0 0 1 8.6 0 Z" fill="#232326"/>
<path d="M113.0 79.8 a2.5 3.2 0 0 1 5.0 0 Z" fill="#232326"/>
<path d="M143 43 L230 43.5 L232 55.5 L143 55.5 Z" fill="#c35a48"/>
<rect x="150.7" y="46" width="6" height="5" fill="#d6ccc4" stroke="#6a4038" stroke-width="0.8"/>
<rect x="171.0" y="46" width="6" height="5" fill="#d6ccc4" stroke="#6a4038" stroke-width="0.8"/>
<rect x="192.5" y="46" width="6" height="5" fill="#d6ccc4" stroke="#6a4038" stroke-width="0.8"/>
<rect x="211.9" y="46" width="6" height="5" fill="#d6ccc4" stroke="#6a4038" stroke-width="0.8"/>
<path d="M114 44 L128 45 L128 55 L114 55 Z" fill="#b87a68"/>
<rect x="144" y="55.5" width="90" height="21" fill="#f0f0ee"/>
<rect x="151.7" y="56.2" width="24.5" height="15.3" fill="#2e3040"/><rect x="157" y="58" width="8" height="11" fill="#9aa0a0"/>
<rect x="194.5" y="57.2" width="22.5" height="12.3" fill="#2e3040"/><rect x="201" y="59" width="9" height="9" fill="#7a8070"/>
<rect x="229" y="71" width="5" height="8" fill="#2a2a2a"/>
<rect x="144" y="75.5" width="90" height="4" fill="#8c8e8a"/>
<path d="M129 66 L145 66 L145 77 L129 78 Z" fill="#2a3226"/>
<path d="M0 88 L118 79.5 L234 79 L234 123 L0 123 Z" fill="#93a458"/>
<ellipse cx="101.6" cy="93.4" rx="5.5" ry="2.4" fill="#86a850" opacity="0.8"/>
<ellipse cx="51.9" cy="105.3" rx="5.4" ry="1.2" fill="#7f9e48" opacity="0.8"/>
<ellipse cx="24.3" cy="100.8" rx="4.7" ry="1.6" fill="#a49050" opacity="0.8"/>
<ellipse cx="42.5" cy="95.5" rx="5.6" ry="1.2" fill="#a49050" opacity="0.8"/>
<ellipse cx="143.2" cy="109.1" rx="3.0" ry="1.2" fill="#7f9e48" opacity="0.8"/>
<ellipse cx="93.5" cy="112.4" rx="3.6" ry="1.7" fill="#a49050" opacity="0.8"/>
<ellipse cx="198.0" cy="115.6" rx="4.8" ry="2.5" fill="#7f9e48" opacity="0.8"/>
<ellipse cx="80.8" cy="100.0" rx="3.3" ry="2.1" fill="#a8ac5e" opacity="0.8"/>
<ellipse cx="3.9" cy="105.1" rx="4.8" ry="1.6" fill="#8c8a4c" opacity="0.8"/>
<ellipse cx="103.5" cy="95.2" rx="2.5" ry="2.4" fill="#a49050" opacity="0.8"/>
<ellipse cx="45.7" cy="117.3" rx="3.1" ry="1.1" fill="#a49050" opacity="0.8"/>
<ellipse cx="155.8" cy="94.3" rx="5.3" ry="2.3" fill="#7f9e48" opacity="0.8"/>
<ellipse cx="135.2" cy="119.9" rx="2.6" ry="2.4" fill="#8c8a4c" opacity="0.8"/>
<ellipse cx="114.1" cy="110.6" rx="3.1" ry="2.2" fill="#a49050" opacity="0.8"/>
<ellipse cx="36.7" cy="118.0" rx="5.8" ry="2.0" fill="#a8ac5e" opacity="0.8"/>
<ellipse cx="160.3" cy="87.2" rx="2.3" ry="2.3" fill="#7f9e48" opacity="0.8"/>
<ellipse cx="90.8" cy="96.9" rx="3.7" ry="2.4" fill="#86a850" opacity="0.8"/>
<ellipse cx="124.3" cy="85.6" rx="5.8" ry="2.5" fill="#7f9e48" opacity="0.8"/>
<ellipse cx="52.4" cy="90.9" rx="4.5" ry="1.8" fill="#a8ac5e" opacity="0.8"/>
<ellipse cx="41.2" cy="100.9" rx="3.1" ry="2.2" fill="#7f9e48" opacity="0.8"/>
<ellipse cx="198.9" cy="85.4" rx="4.9" ry="1.8" fill="#a49050" opacity="0.8"/>
<ellipse cx="37.9" cy="102.0" rx="2.4" ry="2.2" fill="#8c8a4c" opacity="0.8"/>
<ellipse cx="86.4" cy="102.8" rx="5.9" ry="1.5" fill="#8c8a4c" opacity="0.8"/>
<ellipse cx="43.0" cy="92.7" rx="5.3" ry="2.1" fill="#7f9e48" opacity="0.8"/>
<ellipse cx="127.2" cy="99.4" rx="5.9" ry="2.3" fill="#a8ac5e" opacity="0.8"/>
<ellipse cx="2.9" cy="107.8" rx="3.7" ry="1.1" fill="#a8ac5e" opacity="0.8"/>
<ellipse cx="133.0" cy="98.5" rx="4.7" ry="1.4" fill="#86a850" opacity="0.8"/>
<ellipse cx="48.4" cy="95.1" rx="2.7" ry="1.4" fill="#8c8a4c" opacity="0.8"/>
<ellipse cx="0.7" cy="97.8" rx="5.9" ry="1.8" fill="#a8ac5e" opacity="0.8"/>
<ellipse cx="48.9" cy="120.7" rx="2.9" ry="1.3" fill="#a8ac5e" opacity="0.8"/>
<ellipse cx="67.1" cy="87.2" rx="4.0" ry="1.3" fill="#a8ac5e" opacity="0.8"/>
<ellipse cx="100.9" cy="84.2" rx="5.3" ry="1.2" fill="#a8ac5e" opacity="0.8"/>
<ellipse cx="117.4" cy="99.0" rx="3.2" ry="1.3" fill="#a8ac5e" opacity="0.8"/>
<ellipse cx="117.1" cy="104.1" rx="4.6" ry="2.1" fill="#7f9e48" opacity="0.8"/>
<ellipse cx="175.8" cy="98.8" rx="4.9" ry="1.7" fill="#a8ac5e" opacity="0.8"/>
<ellipse cx="56.8" cy="107.5" rx="2.2" ry="2.3" fill="#7f9e48" opacity="0.8"/>
<ellipse cx="178.4" cy="107.8" rx="2.6" ry="1.8" fill="#86a850" opacity="0.8"/>
<ellipse cx="100.9" cy="115.7" rx="5.3" ry="1.9" fill="#a49050" opacity="0.8"/>
<ellipse cx="178.6" cy="110.0" rx="2.3" ry="1.1" fill="#7f9e48" opacity="0.8"/>
<ellipse cx="127.4" cy="120.5" rx="5.3" ry="1.8" fill="#8c8a4c" opacity="0.8"/>
<ellipse cx="125.6" cy="107.8" rx="4.0" ry="1.0" fill="#7f9e48" opacity="0.8"/>
<ellipse cx="159.5" cy="112.4" rx="5.6" ry="1.1" fill="#86a850" opacity="0.8"/>
<ellipse cx="105.2" cy="112.3" rx="3.0" ry="1.1" fill="#8c8a4c" opacity="0.8"/>
<ellipse cx="53.1" cy="111.7" rx="2.9" ry="2.0" fill="#7f9e48" opacity="0.8"/>
<ellipse cx="92.1" cy="116.1" rx="3.9" ry="2.0" fill="#a49050" opacity="0.8"/>
<ellipse cx="153.4" cy="107.4" rx="2.3" ry="1.2" fill="#7f9e48" opacity="0.8"/>
<ellipse cx="50.8" cy="112.2" rx="4.5" ry="1.2" fill="#a8ac5e" opacity="0.8"/>
<ellipse cx="96.5" cy="102.5" rx="4.8" ry="2.0" fill="#a49050" opacity="0.8"/>
<ellipse cx="58.2" cy="103.6" rx="3.9" ry="2.2" fill="#8c8a4c" opacity="0.8"/>
<ellipse cx="198.7" cy="104.9" rx="5.9" ry="2.4" fill="#a8ac5e" opacity="0.8"/>
<ellipse cx="3.5" cy="101.4" rx="5.9" ry="1.7" fill="#86a850" opacity="0.8"/>
<ellipse cx="53.7" cy="92.0" rx="2.3" ry="1.1" fill="#7f9e48" opacity="0.8"/>
<ellipse cx="149.5" cy="93.9" rx="2.5" ry="2.2" fill="#a8ac5e" opacity="0.8"/>
<ellipse cx="101.7" cy="117.7" rx="2.9" ry="2.3" fill="#a8ac5e" opacity="0.8"/>
<ellipse cx="97.2" cy="84.9" rx="5.8" ry="2.0" fill="#a49050" opacity="0.8"/>
<ellipse cx="81.1" cy="111.6" rx="3.4" ry="1.5" fill="#8c8a4c" opacity="0.8"/>
<ellipse cx="168.0" cy="84.1" rx="5.4" ry="1.2" fill="#a8ac5e" opacity="0.8"/>
<ellipse cx="185.3" cy="111.1" rx="3.0" ry="1.1" fill="#a8ac5e" opacity="0.8"/>
<ellipse cx="78.0" cy="117.1" rx="3.4" ry="1.6" fill="#a49050" opacity="0.8"/>
<ellipse cx="55.0" cy="85.8" rx="2.2" ry="2.0" fill="#a49050" opacity="0.8"/>
<ellipse cx="127.0" cy="89.7" rx="3.7" ry="1.5" fill="#a8ac5e" opacity="0.8"/>
<ellipse cx="154.6" cy="113.8" rx="5.5" ry="2.2" fill="#8c8a4c" opacity="0.8"/>
<ellipse cx="126.2" cy="118.7" rx="4.2" ry="2.1" fill="#86a850" opacity="0.8"/>
<ellipse cx="9.9" cy="111.8" rx="4.5" ry="1.2" fill="#8c8a4c" opacity="0.8"/>
<ellipse cx="173.9" cy="102.5" rx="2.5" ry="1.7" fill="#86a850" opacity="0.8"/>
<ellipse cx="68.7" cy="95.3" rx="3.6" ry="1.4" fill="#a8ac5e" opacity="0.8"/>
<ellipse cx="96.6" cy="109.4" rx="2.7" ry="1.2" fill="#a49050" opacity="0.8"/>
<ellipse cx="41.6" cy="118.4" rx="4.2" ry="1.7" fill="#8c8a4c" opacity="0.8"/>
<ellipse cx="66.6" cy="112.9" rx="2.6" ry="1.3" fill="#8c8a4c" opacity="0.8"/>
<ellipse cx="18.1" cy="97.0" rx="3.3" ry="1.6" fill="#a49050" opacity="0.8"/>
<ellipse cx="161.9" cy="91.7" rx="5.0" ry="1.6" fill="#a49050" opacity="0.8"/>
<ellipse cx="82.8" cy="103.9" rx="3.1" ry="2.1" fill="#8c8a4c" opacity="0.8"/>
<ellipse cx="99.6" cy="105.8" rx="2.5" ry="1.8" fill="#a8ac5e" opacity="0.8"/>
<ellipse cx="125.9" cy="116.8" rx="2.4" ry="2.3" fill="#7f9e48" opacity="0.8"/>
<ellipse cx="76.9" cy="108.5" rx="5.8" ry="2.3" fill="#8c8a4c" opacity="0.8"/>
<ellipse cx="174.6" cy="84.8" rx="3.7" ry="2.1" fill="#a49050" opacity="0.8"/>
<ellipse cx="160.8" cy="120.8" rx="2.0" ry="1.6" fill="#8c8a4c" opacity="0.8"/>
<ellipse cx="185.4" cy="115.4" rx="5.9" ry="1.4" fill="#8c8a4c" opacity="0.8"/>
<ellipse cx="21.8" cy="89.9" rx="5.9" ry="1.2" fill="#86a850" opacity="0.8"/>
<ellipse cx="165.1" cy="110.6" rx="2.3" ry="2.2" fill="#8c8a4c" opacity="0.8"/>
<ellipse cx="0.3" cy="88.8" rx="5.7" ry="2.0" fill="#86a850" opacity="0.8"/>
<ellipse cx="60.8" cy="88.9" rx="4.1" ry="1.7" fill="#a8ac5e" opacity="0.8"/>
<ellipse cx="152.8" cy="87.8" rx="4.1" ry="1.9" fill="#a8ac5e" opacity="0.8"/>
<ellipse cx="77.6" cy="92.5" rx="2.0" ry="1.8" fill="#86a850" opacity="0.8"/>
<ellipse cx="199.3" cy="94.6" rx="4.6" ry="2.3" fill="#a8ac5e" opacity="0.8"/>
<ellipse cx="95.1" cy="92.9" rx="2.1" ry="1.6" fill="#7f9e48" opacity="0.8"/>
<ellipse cx="129.9" cy="86.1" rx="4.0" ry="2.0" fill="#7f9e48" opacity="0.8"/>
<ellipse cx="84.0" cy="93.8" rx="5.7" ry="1.3" fill="#8c8a4c" opacity="0.8"/>
<ellipse cx="6.8" cy="96.8" rx="3.4" ry="1.6" fill="#8c8a4c" opacity="0.8"/>
<ellipse cx="1.4" cy="95.1" rx="2.3" ry="1.7" fill="#86a850" opacity="0.8"/>
<path d="M0 87.5 L118 79.4 L140 78.6 L140 81.4 L118 83.4 L0 92.6 Z" fill="#c6beb0"/>
<path d="M0 86.5 L118 78.8 L118 79.8 L0 87.8 Z" fill="#706a70"/>
<path d="M196 123 L198 92 L206 81 L220 79 L232 80 L234 123 Z" fill="#7a7c56"/>
<path d="M204.8 123 L208.1 86.5" stroke="#5c6a40" stroke-width="1.3"/>
<path d="M205.5 123 L208.7 88.8" stroke="#9a9a7a" stroke-width="1.3"/>
<path d="M214.9 123 L206.6 87.1" stroke="#5c6a40" stroke-width="1.3"/>
<path d="M229.0 123 L218.1 95.7" stroke="#5c6a40" stroke-width="1.3"/>
<path d="M199.8 123 L188.3 95.7" stroke="#5c6a40" stroke-width="1.3"/>
<path d="M199.8 123 L189.0 91.0" stroke="#9a9a7a" stroke-width="1.3"/>
<path d="M228.0 123 L230.7 104.9" stroke="#b4b29a" stroke-width="1.3"/>
<path d="M209.2 123 L200.9 103.5" stroke="#9a9a7a" stroke-width="1.3"/>
<path d="M213.9 123 L208.1 98.7" stroke="#5c6a40" stroke-width="1.3"/>
<path d="M231.5 123 L228.3 84.5" stroke="#b4b29a" stroke-width="1.3"/>
<path d="M207.5 123 L202.5 104.0" stroke="#b4b29a" stroke-width="1.3"/>
<path d="M217.1 123 L220.3 90.7" stroke="#5c6a40" stroke-width="1.3"/>
<path d="M225.9 123 L222.6 83.1" stroke="#5c6a40" stroke-width="1.3"/>
<path d="M204.7 123 L203.5 92.3" stroke="#5c6a40" stroke-width="1.3"/>
</g></svg>
<div class="ln" style="left:28.3px;top:261.5px;font-size:20.5px;line-height:30px;transform:scaleX(0.878);">BourgeoisPierreduiven</div>
<div class="ln" style="left:18.7px;top:1445.6px;font-size:31.5px;line-height:30px;transform:scaleX(0.843);color:#4d7ab3;-webkit-text-stroke:0.5px #4d7ab3">Bourgeois Pierre</div>
<div class="ln" style="left:18.4px;top:1472.8px;font-size:20.5px;line-height:30px;transform:scaleX(0.878);-webkit-text-stroke:0.35px #151515">Dennenstraat, 19</div>
<div class="ln" style="left:18.6px;top:1495.1px;font-size:20.5px;line-height:30px;transform:scaleX(0.878);-webkit-text-stroke:0.35px #151515">8870  Izegem, Belgium</div>
<div class="ln" style="left:18.8px;top:1517.4px;font-size:20.5px;line-height:30px;transform:scaleX(0.878);-webkit-text-stroke:0.35px #151515">Tel.:0465080589</div>
<div class="ln" style="left:19.0px;top:1539.7px;font-size:20.5px;line-height:30px;transform:scaleX(0.878);-webkit-text-stroke:0.35px #151515">pierre_bourgeois@telenet.be</div>
<div class="ln" style="left:751.6px;top:1590.8px;font-size:14px;line-height:30px;transform:scaleX(1);font-style:italic;color:#747474">28-10-2024   Compuclub © [9.42]  Bourgeois Pierre</div>
</div></body></html>
